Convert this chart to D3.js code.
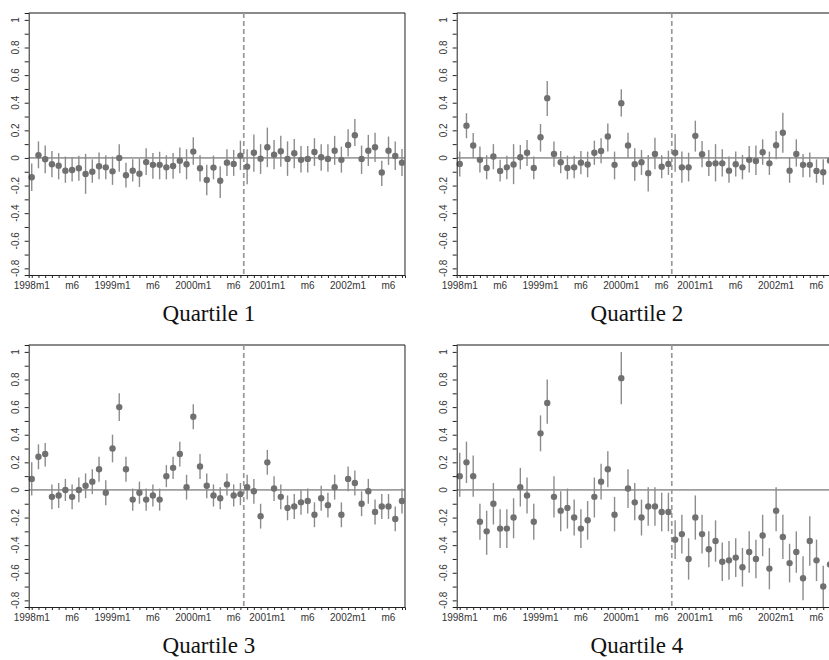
<!DOCTYPE html>
<html>
<head>
<meta charset="utf-8">
<script src="https://cdn.jsdelivr.net/npm/d3@7"></script>
<style>
  body { margin: 0; background: #fff; }
  svg { display: block; }
</style>
</head>
<body>
<svg width="829" height="660"></svg>
<script>

// Months on the x axis, 1998m1 .. 2002m8
let months = d3.range(56);
let xTickIdx = [0, 6, 12, 18, 24, 30, 35, 41, 47, 53];
let xTickLab = ['1998m1', 'm6', '1999m1', 'm6', '2000m1', 'm6', '2001m1', 'm6', '2002m1', 'm6'];
let yLabelTicks = [-0.8, -0.6, -0.4, -0.2, 0, 0.2, 0.4, 0.6, 0.8, 1];
let yMinorTicks = d3.range(-8, 11).map(d => d / 10);
let breakMonth = 31.5;

let q1Est = [-0.14,0.02,-0.01,-0.046,-0.056,-0.092,-0.087,-0.075,-0.116,-0.1,-0.06,-0.068,-0.097,0.0,-0.125,-0.092,-0.114,-0.03,-0.05,-0.05,-0.068,-0.058,-0.02,-0.046,0.046,-0.075,-0.16,-0.07,-0.165,-0.034,-0.043,0.017,-0.063,0.038,-0.005,0.077,0.024,0.048,-0.007,0.034,-0.014,-0.007,0.043,0.005,-0.007,0.053,-0.014,0.094,0.164,-0.007,0.053,0.077,-0.106,0.053,0.014,-0.034];
let q1Lo = [-0.24,-0.075,-0.11,-0.14,-0.155,-0.18,-0.17,-0.165,-0.26,-0.18,-0.155,-0.155,-0.195,-0.1,-0.215,-0.17,-0.21,-0.123,-0.15,-0.155,-0.155,-0.15,-0.11,-0.155,-0.05,-0.17,-0.27,-0.155,-0.29,-0.13,-0.13,-0.087,-0.19,-0.1,-0.116,-0.067,-0.082,-0.063,-0.13,-0.075,-0.106,-0.106,-0.058,-0.092,-0.1,-0.05,-0.106,0.01,0.087,-0.116,-0.058,-0.03,-0.203,-0.05,-0.087,-0.13];
let q1Hi = [-0.04,0.12,0.09,0.05,0.035,0.01,0.005,0.015,0.03,-0.01,0.04,0.02,0.01,0.1,-0.034,-0.01,-0.005,0.07,0.035,0.045,0.02,0.035,0.075,0.063,0.15,0.02,-0.05,0.017,-0.06,0.063,0.058,0.125,0.063,0.17,0.1,0.22,0.13,0.16,0.12,0.138,0.087,0.087,0.143,0.1,0.1,0.16,0.082,0.208,0.283,0.09,0.167,0.183,-0.02,0.155,0.12,0.065];

let q2Est = [-0.043,0.234,0.09,-0.014,-0.072,0.01,-0.094,-0.068,-0.048,0.005,0.038,-0.072,0.15,0.433,0.029,-0.031,-0.072,-0.068,-0.034,-0.048,0.038,0.05,0.155,-0.05,0.396,0.09,-0.046,-0.031,-0.11,0.029,-0.063,-0.043,0.038,-0.068,-0.068,0.16,0.027,-0.043,-0.039,-0.039,-0.092,-0.046,-0.068,-0.014,-0.022,0.041,-0.039,0.092,0.183,-0.092,0.029,-0.05,-0.05,-0.094,-0.104,-0.02];
let q2Lo = [-0.135,0.143,-0.002,-0.106,-0.155,-0.082,-0.17,-0.155,-0.19,-0.082,-0.058,-0.155,0.046,0.304,-0.063,-0.11,-0.155,-0.147,-0.118,-0.14,-0.05,-0.038,0.046,-0.155,0.3,0.0,-0.165,-0.123,-0.244,-0.082,-0.147,-0.123,-0.1,-0.18,-0.17,0.046,-0.068,-0.13,-0.17,-0.135,-0.18,-0.135,-0.155,-0.106,-0.123,-0.05,-0.123,-0.01,0.038,-0.18,-0.063,-0.14,-0.14,-0.18,-0.195,-0.11];
let q2Hi = [0.046,0.324,0.18,0.082,0.02,0.1,-0.014,0.015,0.1,0.094,0.13,0.01,0.246,0.558,0.12,0.05,0.017,0.015,0.05,0.046,0.125,0.143,0.25,0.046,0.497,0.183,0.07,0.058,0.022,0.147,0.02,0.053,0.174,0.046,0.038,0.27,0.123,0.058,0.1,0.063,0.01,0.046,0.022,0.087,0.09,0.135,0.046,0.196,0.328,0.005,0.135,0.029,0.04,-0.01,-0.01,0.07];

let q3Est = [0.08,0.24,0.26,-0.05,-0.04,0.0,-0.05,0.0,0.03,0.06,0.15,-0.02,0.3,0.6,0.15,-0.07,-0.02,-0.07,-0.04,-0.07,0.1,0.16,0.26,0.02,0.53,0.17,0.03,-0.04,-0.06,0.04,-0.04,-0.03,0.02,-0.01,-0.19,0.2,0.01,-0.05,-0.13,-0.12,-0.09,-0.08,-0.18,-0.06,-0.11,0.02,-0.18,0.08,0.05,-0.1,-0.01,-0.16,-0.12,-0.12,-0.21,-0.08];
let q3Lo = [-0.04,0.15,0.17,-0.14,-0.13,-0.08,-0.14,-0.09,-0.06,-0.03,0.06,-0.11,0.2,0.5,0.06,-0.15,-0.1,-0.15,-0.12,-0.15,0.02,0.08,0.17,-0.07,0.44,0.08,-0.06,-0.12,-0.14,-0.04,-0.12,-0.11,-0.07,-0.1,-0.28,0.11,-0.08,-0.14,-0.22,-0.21,-0.18,-0.17,-0.27,-0.15,-0.2,-0.07,-0.27,-0.01,-0.04,-0.19,-0.1,-0.25,-0.21,-0.21,-0.3,-0.17];
let q3Hi = [0.2,0.33,0.34,0.04,0.05,0.08,0.04,0.09,0.12,0.15,0.24,0.07,0.4,0.7,0.24,0.01,0.06,0.01,0.04,0.01,0.18,0.24,0.35,0.11,0.62,0.26,0.12,0.04,0.02,0.12,0.04,0.05,0.11,0.08,-0.1,0.29,0.1,0.04,-0.04,-0.03,0.0,0.01,-0.09,0.03,-0.02,0.11,-0.09,0.17,0.14,-0.01,0.08,-0.07,-0.03,-0.03,-0.12,0.01];

let q4Est = [0.1,0.2,0.1,-0.23,-0.3,-0.1,-0.28,-0.28,-0.2,0.02,-0.04,-0.23,0.41,0.63,-0.05,-0.15,-0.13,-0.2,-0.28,-0.22,-0.05,0.06,0.15,-0.18,0.81,0.01,-0.09,-0.2,-0.12,-0.12,-0.16,-0.16,-0.36,-0.32,-0.5,-0.2,-0.32,-0.43,-0.37,-0.52,-0.51,-0.49,-0.56,-0.45,-0.5,-0.33,-0.57,-0.15,-0.34,-0.53,-0.45,-0.64,-0.37,-0.51,-0.7,-0.54];
let q4Lo = [-0.05,0.05,-0.05,-0.36,-0.47,-0.25,-0.42,-0.42,-0.35,-0.12,-0.17,-0.36,0.28,0.48,-0.2,-0.3,-0.28,-0.33,-0.42,-0.36,-0.2,-0.07,0.02,-0.3,0.62,-0.13,-0.22,-0.33,-0.26,-0.26,-0.3,-0.3,-0.5,-0.46,-0.65,-0.36,-0.46,-0.56,-0.52,-0.66,-0.65,-0.63,-0.7,-0.6,-0.64,-0.48,-0.72,-0.3,-0.5,-0.67,-0.6,-0.8,-0.55,-0.66,-0.85,-0.68];
let q4Hi = [0.27,0.35,0.25,-0.1,-0.15,0.05,-0.14,-0.14,-0.06,0.16,0.09,-0.1,0.54,0.8,0.1,-0.01,0.01,-0.07,-0.14,-0.08,0.09,0.19,0.28,-0.05,1.0,0.15,0.05,-0.07,0.02,0.02,-0.02,-0.02,-0.22,-0.18,-0.35,-0.04,-0.18,-0.3,-0.22,-0.38,-0.37,-0.35,-0.42,-0.3,-0.36,-0.18,-0.42,0.02,-0.18,-0.39,-0.3,-0.48,-0.19,-0.36,-0.55,-0.4];

let panels = [
  { title: 'Quartile 1', est: q1Est, lo: q1Lo, hi: q1Hi, left: 28.7, top: 13 },
  { title: 'Quartile 2', est: q2Est, lo: q2Lo, hi: q2Hi, left: 456.7, top: 13 },
  { title: 'Quartile 3', est: q3Est, lo: q3Lo, hi: q3Hi, left: 28.7, top: 345 },
  { title: 'Quartile 4', est: q4Est, lo: q4Lo, hi: q4Hi, left: 456.7, top: 345 }
];

let svg = d3.select('svg');
let plotW = 376.3;
let plotH = 262;

let x = d3.scaleLinear().domain([-0.45, 55.45]).range([0, plotW]);
let y = d3.scaleLinear().domain([-0.848, 1.05]).range([plotH, 0]);

let fmt = d => String(+d.toFixed(1));

panels.forEach(p => {
  let g = svg.append('g').attr('transform', `translate(${p.left},${p.top})`);

  // top frame line (thick gray) and right border
  g.append('line')
    .attr('x1', 0).attr('x2', plotW).attr('y1', 0).attr('y2', 0)
    .attr('stroke', '#8a8a8a').attr('stroke-width', 2.2);
  g.append('line')
    .attr('x1', plotW).attr('x2', plotW).attr('y1', 0).attr('y2', plotH)
    .attr('stroke', '#222').attr('stroke-width', 1);

  // zero reference line
  g.append('line')
    .attr('x1', 0).attr('x2', plotW).attr('y1', y(0)).attr('y2', y(0))
    .attr('stroke', '#555').attr('stroke-width', 1);

  // dashed break line
  g.append('line')
    .attr('x1', x(breakMonth)).attr('x2', x(breakMonth))
    .attr('y1', 0).attr('y2', plotH)
    .attr('stroke', '#999').attr('stroke-width', 1.7)
    .attr('stroke-dasharray', '5,3');

  // confidence intervals
  g.append('g').selectAll('line')
    .data(months)
    .enter().append('line')
      .attr('x1', d => x(d)).attr('x2', d => x(d))
      .attr('y1', d => y(p.lo[d])).attr('y2', d => y(p.hi[d]))
      .attr('stroke', '#8c8c8c').attr('stroke-width', 1.4);

  // point estimates
  g.append('g').selectAll('circle')
    .data(months)
    .enter().append('circle')
      .attr('cx', d => x(d)).attr('cy', d => y(p.est[d]))
      .attr('r', 3.2)
      .attr('fill', '#707070');

  // y axis
  let yAxis = g.append('g')
    .call(d3.axisLeft(y).tickValues(yMinorTicks).tickSize(4).tickFormat(''));
  yAxis.select('.domain').attr('stroke', '#222');
  yAxis.selectAll('.tick line').attr('stroke', '#222');

  g.append('g').selectAll('text')
    .data(yLabelTicks)
    .enter().append('text')
      .attr('transform', d => `translate(-9.5,${y(d)}) rotate(-90)`)
      .attr('text-anchor', 'middle')
      .style('font-family', '"Liberation Sans", Arial, sans-serif')
      .style('font-size', '10px')
      .attr('fill', '#333')
      .text(fmt);

  // x axis
  let xAxis = g.append('g')
    .attr('transform', `translate(0,${plotH})`)
    .call(d3.axisBottom(x).tickValues(months).tickSize(3).tickFormat(''));
  xAxis.select('.domain').attr('stroke', '#222');
  xAxis.selectAll('.tick line').attr('stroke', '#222');

  g.append('g').selectAll('text')
    .data(xTickIdx)
    .enter().append('text')
      .attr('x', d => x(d))
      .attr('y', plotH + 14)
      .attr('text-anchor', 'middle')
      .style('font-family', '"Liberation Sans", Arial, sans-serif')
      .style('font-size', '10px')
      .attr('fill', '#333')
      .text((d, i) => xTickLab[i]);

  // panel caption, centred on the whole panel incl. the y labels
  g.append('text')
    .attr('x', plotW / 2 - 8)
    .attr('y', plotH + 46)
    .attr('text-anchor', 'middle')
    .style('font-family', '"Liberation Serif", "Times New Roman", serif')
    .style('font-size', '23px')
    .attr('fill', '#111')
    .text(p.title);
});
</script>
</body>
</html>
